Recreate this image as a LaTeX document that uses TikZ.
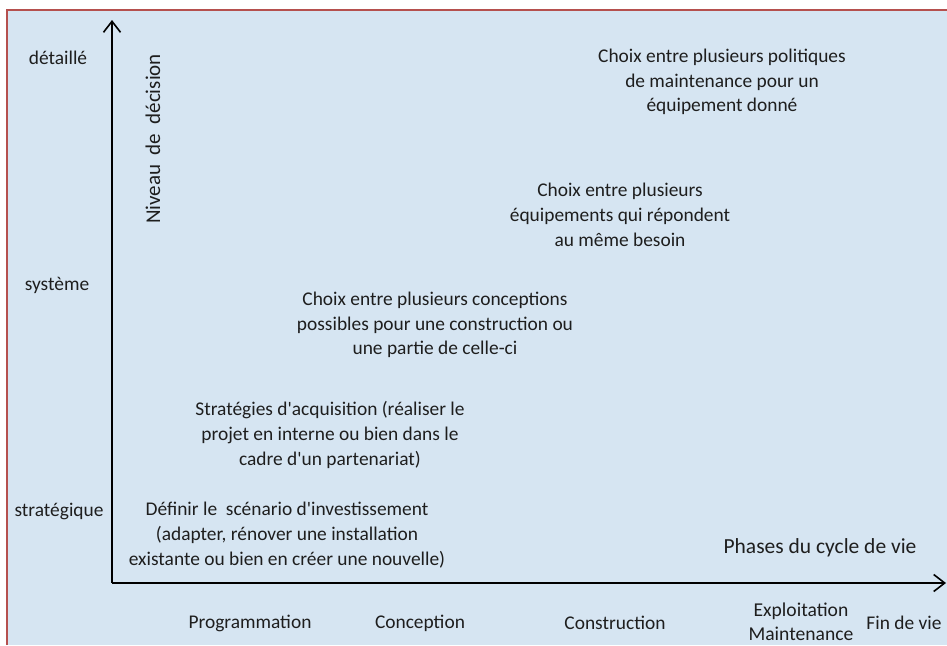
\documentclass[tikz,border=0pt]{standalone}
\usepackage{fontspec}
\setmainfont{Carlito}
\usetikzlibrary{arrows.meta}
\definecolor{panel}{HTML}{D6E5F2}
\definecolor{frame}{HTML}{B5504E}
\definecolor{ink}{HTML}{1E1E1E}
\newcommand\apos{\textquotesingle}
\begin{document}
\begin{tikzpicture}[x=1pt,y=-1pt,
  txt/.style={font=\fontsize{19.4}{24.8}\selectfont, text=ink, align=center, inner sep=0pt},
  big/.style={font=\fontsize{21.5}{24.8}\selectfont},
  axis/.style={draw=black, line width=2pt, -{Straight Barb[length=11pt,width=17pt,line width=1.6pt]}}]
  \useasboundingbox (0,0) rectangle (947,645);
  % panel with its frame on the top and left
  \fill[panel] (7,11) rectangle (947,645);
  \draw[frame, line width=2pt] (7,645) -- (7,10) -- (947,10);

  % axes
  \coordinate (o) at (112,583);
  \coordinate (ytip) at (112,20);
  \coordinate (xtip) at (946,583);
  \draw[axis] (o) -- (ytip);
  \draw[axis] (o) -- (xtip);

  % decision levels
  \node[txt] (det) at (58,58) {détaillé};
  \node[txt] (sys) at (57,285) {système};
  \node[txt] (str) at (59,511) {stratégique};
  \node[txt, font=\fontsize{21}{24.8}\selectfont, rotate=90] (niv) at (153,139) {Niveau\hspace{0.45em}de\hspace{0.45em}décision};

  % life-cycle phases
  \node[txt, big] (phases) at (820,548) {Phases du cycle de vie};
  \node[txt] (prog) at (250,623) {Programmation};
  \node[txt] (conc) at (420,623) {Conception};
  \node[txt] (cons) at (615,623) {Construction};
  \node[txt, font=\fontsize{19.6}{23.5}\selectfont] (expl) at (801,622) {Exploitation\\Maintenance};
  \node[txt] (fin) at (904,623) {Fin de vie};

  % decisions
  \node[txt] (d1) at (722,82) {Choix entre plusieurs politiques\\de maintenance pour un\\équipement donné};
  \node[txt] (d2) at (620,215) {Choix entre plusieurs\\équipements qui répondent\\au même besoin};
  \node[txt] (d3) at (435,325) {Choix entre plusieurs conceptions\\possibles pour une construction ou\\une partie de celle-ci};
  \node[txt] (d4) at (330,435) {Stratégies d\apos acquisition (réaliser le\\projet en interne ou bien dans le\\cadre d\apos un partenariat)};
  \node[txt] (d5) at (287,535) {Définir le~ scénario d\apos investissement\\(adapter, rénover une installation\\existante ou bien en créer une nouvelle)};
\end{tikzpicture}
\end{document}
